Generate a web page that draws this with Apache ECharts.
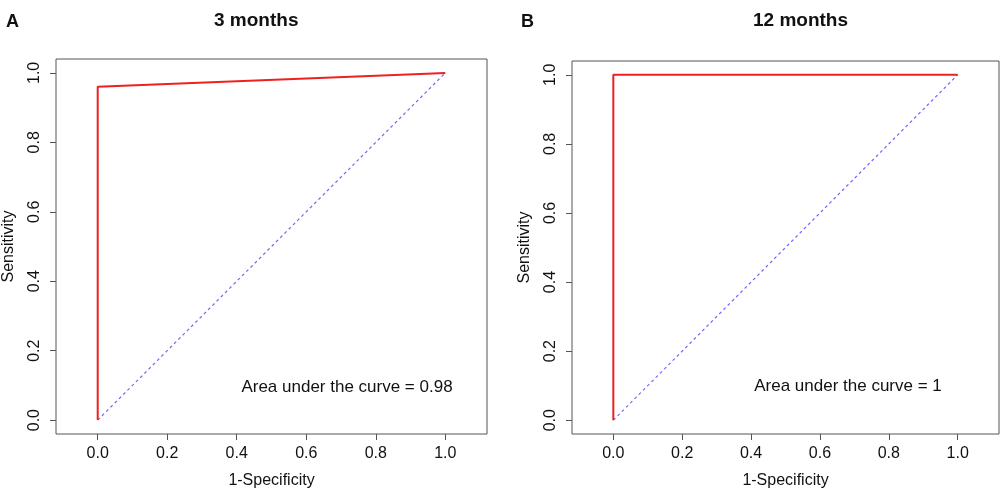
<!DOCTYPE html>
<html>
<head>
<meta charset="utf-8">
<script src="https://cdn.jsdelivr.net/npm/echarts@6/dist/echarts.min.js"></script>
<style>
  html, body { margin: 0; padding: 0; background: #fff; }
  #chart { width: 1000px; height: 494px; }
</style>
</head>
<body>
<div id="chart"></div>
<script>
// ROC data
var fprA = [0, 0, 1];
var tprA = [0, 0.96, 1];
var fprB = [0, 0, 1];
var tprB = [0, 1, 1];
var refX = [0, 1];
var refY = [0, 1];
var tickVals = [0, 0.2, 0.4, 0.6, 0.8, 1.0];
var panelTitles = ['3 months', '12 months'];
var panelTags = ['A', 'B'];
var aucText = ['Area under the curve = 0.98', 'Area under the curve = 1'];

function pairs(xs, ys) {
    var out = [];
    for (var i = 0; i < xs.length; i++) out.push([xs[i], ys[i]]);
    return out;
}

var font = 'Liberation Sans, Arial, sans-serif';
var axisCol = '#555';

function xAx(idx) {
    return {
        type: 'value', gridIndex: idx, min: -0.12, max: 1.12,
        name: '1-Specificity', nameLocation: 'middle', nameGap: 39,
        nameTextStyle: { fontFamily: font, fontSize: 16, color: '#111' },
        axisLine: { show: false, onZero: false },
        axisTick: { show: true, inside: false, length: 6, lineStyle: { color: axisCol }, customValues: tickVals },
        axisLabel: { customValues: tickVals, margin: 12, fontFamily: font, fontSize: 16, color: '#111',
            formatter: function (v) { return v.toFixed(1); } },
        splitLine: { show: false }
    };
}

function yAx(idx) {
    return {
        type: 'value', gridIndex: idx, min: -0.04, max: 1.04,
        name: 'Sensitivity', nameLocation: 'middle', nameGap: 39,
        nameTextStyle: { fontFamily: font, fontSize: 16, color: '#111' },
        axisLine: { show: false, onZero: false },
        axisTick: { show: true, inside: false, length: 6, lineStyle: { color: axisCol }, customValues: tickVals },
        axisLabel: { customValues: tickVals, rotate: 90, margin: 13, fontFamily: font, fontSize: 16, color: '#111',
            formatter: function (v) { return v.toFixed(1); } },
        splitLine: { show: false }
    };
}

var myChart = echarts.init(document.getElementById('chart'));

var option = {
    animation: false,
    backgroundColor: '#fff',
    title: [
        { text: panelTitles[0], left: 209, top: 6,
          textStyle: { fontFamily: font, fontSize: 19, fontWeight: 'bold', color: '#111' } },
        { text: panelTitles[1], left: 748, top: 6,
          textStyle: { fontFamily: font, fontSize: 19, fontWeight: 'bold', color: '#111' } },
        { text: panelTags[0], left: 1, top: 8,
          textStyle: { fontFamily: font, fontSize: 18, fontWeight: 'bold', color: '#111' } },
        { text: panelTags[1], left: 516, top: 8,
          textStyle: { fontFamily: font, fontSize: 18, fontWeight: 'bold', color: '#111' } }
    ],
    grid: [
        { left: 55, top: 59, width: 432, height: 378, show: true, borderColor: axisCol, borderWidth: 1 },
        { left: 572, top: 61, width: 427, height: 373, show: true, borderColor: axisCol, borderWidth: 1 }
    ],
    xAxis: [xAx(0), xAx(1)],
    yAxis: [yAx(0), yAx(1)],
    graphic: [
        { type: 'text', x: 347, y: 387, style: { text: aucText[0], align: 'center', verticalAlign: 'middle',
            font: '17px ' + font, fill: '#111' } },
        { type: 'text', x: 848, y: 386, style: { text: aucText[1], align: 'center', verticalAlign: 'middle',
            font: '17px ' + font, fill: '#111' } }
    ],
    series: [
        { type: 'line', xAxisIndex: 0, yAxisIndex: 0, data: pairs(refX, refY), symbol: 'none',
          color: '#6a6aff', lineStyle: { color: '#6a6aff', width: 1.2, type: [3, 3] } },
        { type: 'line', xAxisIndex: 0, yAxisIndex: 0, data: pairs(fprA, tprA), symbol: 'none',
          color: '#ee2020', lineStyle: { color: '#ee2020', width: 2 } },
        { type: 'line', xAxisIndex: 1, yAxisIndex: 1, data: pairs(refX, refY), symbol: 'none',
          color: '#6a6aff', lineStyle: { color: '#6a6aff', width: 1.2, type: [3, 3] } },
        { type: 'line', xAxisIndex: 1, yAxisIndex: 1, data: pairs(fprB, tprB), symbol: 'none',
          color: '#ee2020', lineStyle: { color: '#ee2020', width: 2 } }
    ]
};
myChart.setOption(option, true);
</script>
</body>
</html>
